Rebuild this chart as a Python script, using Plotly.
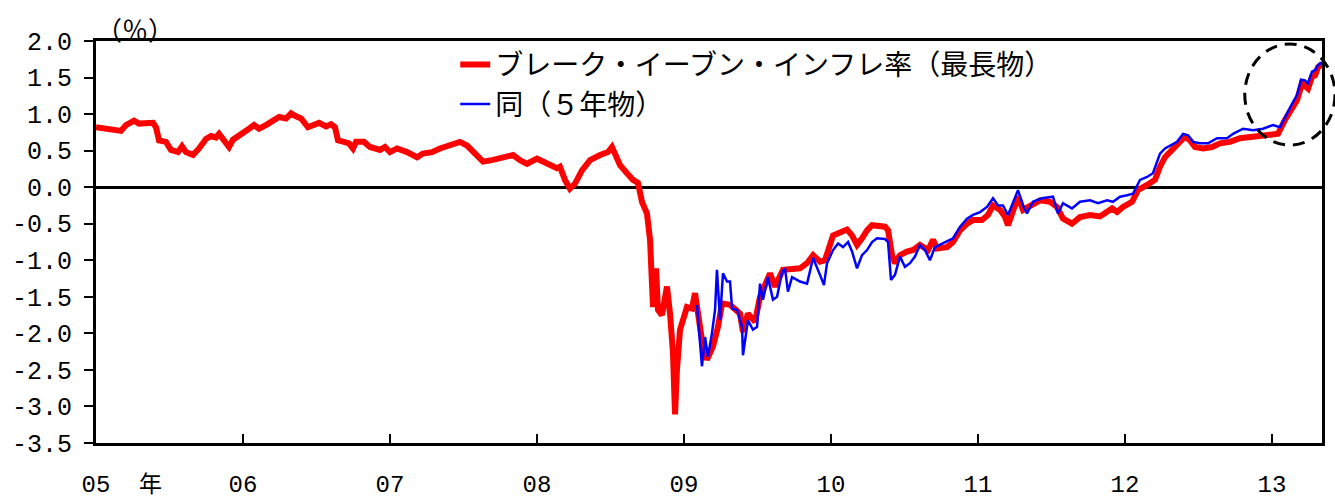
import plotly.graph_objects as go

# Break-even inflation rate, longest maturity (decimal year, %)
red_t = [2005.000, 2005.068, 2005.116, 2005.136, 2005.170, 2005.204, 2005.259, 2005.293, 2005.388, 2005.408,
         2005.429, 2005.476, 2005.510, 2005.558, 2005.585, 2005.612, 2005.660, 2005.701, 2005.748, 2005.782,
         2005.816, 2005.837, 2005.864, 2005.905, 2005.932, 2006.000, 2006.041, 2006.075, 2006.109, 2006.156,
         2006.204, 2006.245, 2006.293, 2006.327, 2006.361, 2006.395, 2006.442, 2006.497, 2006.517, 2006.565,
         2006.599, 2006.626, 2006.646, 2006.687, 2006.721, 2006.748, 2006.769, 2006.823, 2006.864, 2006.932,
         2006.966, 2007.000, 2007.048, 2007.116, 2007.184, 2007.224, 2007.286, 2007.340, 2007.408, 2007.476,
         2007.524, 2007.578, 2007.633, 2007.694, 2007.748, 2007.796, 2007.837, 2007.884, 2007.932, 2008.000,
         2008.068, 2008.136, 2008.156, 2008.190, 2008.224, 2008.259, 2008.306, 2008.361, 2008.429, 2008.483,
         2008.510, 2008.531, 2008.565, 2008.612, 2008.653, 2008.687, 2008.714, 2008.748, 2008.769, 2008.789,
         2008.810, 2008.823, 2008.850, 2008.884, 2008.905, 2008.925, 2008.939, 2008.952, 2008.973, 2009.020,
         2009.054, 2009.075, 2009.095, 2009.122, 2009.156, 2009.197, 2009.231, 2009.259, 2009.313, 2009.381,
         2009.401, 2009.435, 2009.483, 2009.517, 2009.585, 2009.619, 2009.673, 2009.741, 2009.789, 2009.837,
         2009.878, 2009.925, 2009.959, 2010.014, 2010.061, 2010.109, 2010.143, 2010.177, 2010.211, 2010.245,
         2010.279, 2010.333, 2010.367, 2010.388, 2010.415, 2010.435, 2010.469, 2010.517, 2010.558, 2010.605,
         2010.660, 2010.694, 2010.721, 2010.789, 2010.830, 2010.878, 2010.925, 2010.966, 2011.027, 2011.068,
         2011.102, 2011.150, 2011.184, 2011.204, 2011.238, 2011.272, 2011.306, 2011.354, 2011.422, 2011.490,
         2011.537, 2011.578, 2011.639, 2011.694, 2011.762, 2011.830, 2011.864, 2011.912, 2011.946, 2011.986,
         2012.048, 2012.088, 2012.150, 2012.204, 2012.238, 2012.272, 2012.320, 2012.361, 2012.408, 2012.442,
         2012.476, 2012.531, 2012.592, 2012.646, 2012.714, 2012.782, 2012.850, 2012.918, 2012.986, 2013.041,
         2013.088, 2013.136, 2013.170, 2013.204, 2013.224, 2013.245, 2013.272, 2013.293, 2013.313, 2013.340]
red_v = [0.82, 0.80, 0.80, 0.78, 0.77, 0.85, 0.91, 0.87, 0.88, 0.82,
         0.64, 0.62, 0.51, 0.48, 0.56, 0.48, 0.44, 0.53, 0.66, 0.70,
         0.68, 0.73, 0.65, 0.55, 0.65, 0.73, 0.80, 0.85, 0.80, 0.85,
         0.92, 0.96, 0.94, 1.01, 0.97, 0.94, 0.82, 0.85, 0.88, 0.83,
         0.86, 0.82, 0.64, 0.62, 0.60, 0.53, 0.62, 0.62, 0.55, 0.51,
         0.55, 0.48, 0.53, 0.48, 0.41, 0.46, 0.48, 0.53, 0.57, 0.62,
         0.57, 0.46, 0.35, 0.37, 0.39, 0.41, 0.44, 0.37, 0.32, 0.39,
         0.32, 0.26, 0.28, 0.10, -0.02, 0.05, 0.23, 0.37, 0.44, 0.48,
         0.55, 0.44, 0.30, 0.19, 0.10, 0.06, -0.20, -0.36, -0.72, -1.64,
         -1.11, -1.68, -1.75, -1.36, -1.73, -2.27, -3.11, -2.50, -1.95, -1.64,
         -1.66, -1.45, -1.68, -2.09, -2.36, -2.18, -1.91, -1.59, -1.61, -1.73,
         -1.98, -1.73, -1.84, -1.50, -1.18, -1.36, -1.13, -1.11, -1.11, -1.04,
         -0.93, -1.02, -1.00, -0.66, -0.63, -0.58, -0.66, -0.79, -0.70, -0.59,
         -0.52, -0.52, -0.54, -0.59, -0.93, -1.04, -0.93, -0.88, -0.86, -0.79,
         -0.86, -0.72, -0.84, -0.82, -0.75, -0.59, -0.50, -0.45, -0.45, -0.38,
         -0.25, -0.31, -0.41, -0.52, -0.31, -0.13, -0.31, -0.25, -0.18, -0.20,
         -0.27, -0.43, -0.50, -0.41, -0.38, -0.40, -0.36, -0.29, -0.34, -0.27,
         -0.20, -0.04, 0.03, 0.10, 0.28, 0.41, 0.51, 0.60, 0.69, 0.64,
         0.55, 0.53, 0.55, 0.60, 0.62, 0.67, 0.69, 0.69, 0.71, 0.73,
         0.92, 1.07, 1.19, 1.42, 1.39, 1.35, 1.51, 1.53, 1.64, 1.69]

# Same measure, 5-year maturity
blue_t = [2009.088, 2009.122, 2009.143, 2009.163, 2009.190, 2009.211, 2009.224, 2009.245, 2009.265, 2009.293,
          2009.313, 2009.327, 2009.361, 2009.395, 2009.401, 2009.415, 2009.435, 2009.469, 2009.497, 2009.517,
          2009.537, 2009.571, 2009.605, 2009.633, 2009.667, 2009.687, 2009.707, 2009.735, 2009.769, 2009.789,
          2009.837, 2009.878, 2009.925, 2009.952, 2009.973, 2010.014, 2010.048, 2010.082, 2010.116, 2010.143,
          2010.177, 2010.211, 2010.245, 2010.279, 2010.313, 2010.367, 2010.388, 2010.408, 2010.435, 2010.469,
          2010.503, 2010.537, 2010.571, 2010.605, 2010.639, 2010.673, 2010.707, 2010.762, 2010.830, 2010.878,
          2010.925, 2010.966, 2011.014, 2011.061, 2011.102, 2011.136, 2011.170, 2011.204, 2011.238, 2011.272,
          2011.306, 2011.333, 2011.374, 2011.435, 2011.510, 2011.544, 2011.578, 2011.639, 2011.694, 2011.762,
          2011.816, 2011.878, 2011.918, 2011.966, 2012.014, 2012.054, 2012.102, 2012.150, 2012.190, 2012.238,
          2012.272, 2012.306, 2012.354, 2012.395, 2012.429, 2012.463, 2012.510, 2012.565, 2012.626, 2012.694,
          2012.735, 2012.803, 2012.871, 2012.939, 2013.007, 2013.054, 2013.088, 2013.136, 2013.170, 2013.197,
          2013.224, 2013.245, 2013.272, 2013.293, 2013.313, 2013.340]
blue_v = [-1.61, -2.45, -2.05, -2.32, -2.00, -1.68, -1.13, -1.82, -1.18, -1.29,
          -1.29, -1.66, -1.68, -1.91, -2.30, -2.09, -1.82, -1.95, -1.91, -1.32,
          -1.54, -1.23, -1.54, -1.50, -1.16, -1.11, -1.43, -1.23, -1.27, -1.29,
          -1.32, -0.97, -1.20, -1.34, -1.04, -0.86, -0.77, -0.82, -0.75, -0.88,
          -1.11, -0.93, -0.86, -0.75, -0.70, -0.71, -0.75, -1.27, -1.20, -0.95,
          -1.09, -1.04, -0.95, -0.79, -0.86, -1.00, -0.82, -0.77, -0.70, -0.54,
          -0.43, -0.38, -0.34, -0.27, -0.15, -0.25, -0.25, -0.38, -0.22, -0.04,
          -0.25, -0.36, -0.20, -0.15, -0.13, -0.36, -0.22, -0.29, -0.20, -0.18,
          -0.22, -0.18, -0.20, -0.13, -0.11, -0.09, 0.10, 0.14, 0.19, 0.46,
          0.53, 0.57, 0.62, 0.73, 0.71, 0.62, 0.60, 0.60, 0.67, 0.67,
          0.73, 0.80, 0.78, 0.80, 0.85, 0.82, 0.96, 1.14, 1.26, 1.47,
          1.46, 1.42, 1.58, 1.60, 1.67, 1.71]

year_ticks = [2005, 2006, 2007, 2008, 2009, 2010, 2011, 2012, 2013]
year_labels = ["05", "06", "07", "08", "09", "10", "11", "12", "13"]
y_ticks = [2.0, 1.5, 1.0, 0.5, 0.0, -0.5, -1.0, -1.5, -2.0, -2.5, -3.0, -3.5]
y_labels = ["2.0", "1.5", "1.0", "0.5", "0.0", "-0.5", "-1.0", "-1.5", "-2.0", "-2.5", "-3.0", "-3.5"]

name_long = "ブレーク・イーブン・インフレ率（最長物）"
name_5y = "同（５年物）"

JP = "Noto Sans CJK JP"
NUM = "Liberation Mono"

fig = go.Figure()
fig.add_trace(go.Scatter(x=red_t, y=red_v, mode="lines", name=name_long,
                         line=dict(color="#ff0000", width=6)))
fig.add_trace(go.Scatter(x=blue_t, y=blue_v, mode="lines", name=name_5y,
                         line=dict(color="#0000ff", width=2.5)))

fig.update_layout(
    width=1335, height=501,
    margin=dict(l=96, r=13, t=41, b=58, autoexpand=False),
    paper_bgcolor="white", plot_bgcolor="white",
    showlegend=True,
    legend=dict(x=0.293, y=1.003, xanchor="left", yanchor="top",
                bgcolor="rgba(0,0,0,0)", font=dict(family=JP, size=28, color="black"),
                tracegroupgap=0, itemwidth=30),
    xaxis=dict(range=[2005.0, 2013.34], tickvals=year_ticks, ticktext=year_labels,
               showgrid=False, zeroline=False, showline=True, linecolor="black",
               linewidth=3, mirror=True, ticks="inside", ticklen=9, tickwidth=2,
               tickcolor="black", ticklabelstandoff=17, automargin=False,
               tickfont=dict(family=NUM, size=24, color="black")),
    yaxis=dict(range=[-3.5, 2.0], tickvals=y_ticks, ticktext=y_labels,
               showgrid=False, zeroline=True, zerolinecolor="black", zerolinewidth=2.5,
               showline=True, linecolor="black", linewidth=3, mirror=True,
               ticks="outside", ticklen=9, tickwidth=2, tickcolor="black",
               ticklabelstandoff=7, automargin=False,
               tickfont=dict(family=NUM, size=25, color="black")),
    annotations=[
        dict(text="（％）", xref="paper", yref="paper", x=0.0318, y=1.032,
             xanchor="center", yanchor="middle", showarrow=False,
             font=dict(family=JP, size=26, color="black")),
        dict(text="年", xref="x", yref="paper", x=2005.37, y=-0.097,
             xanchor="center", yanchor="middle", showarrow=False,
             font=dict(family=JP, size=23, color="black")),
    ],
    shapes=[
        dict(type="circle", xref="paper", yref="paper",
             x0=0.937, x1=1.0106, y0=0.741, y1=0.9925,
             line=dict(color="black", width=3, dash="12px,8px"), layer="above"),
    ],
)

fig.write_html("out.html")
